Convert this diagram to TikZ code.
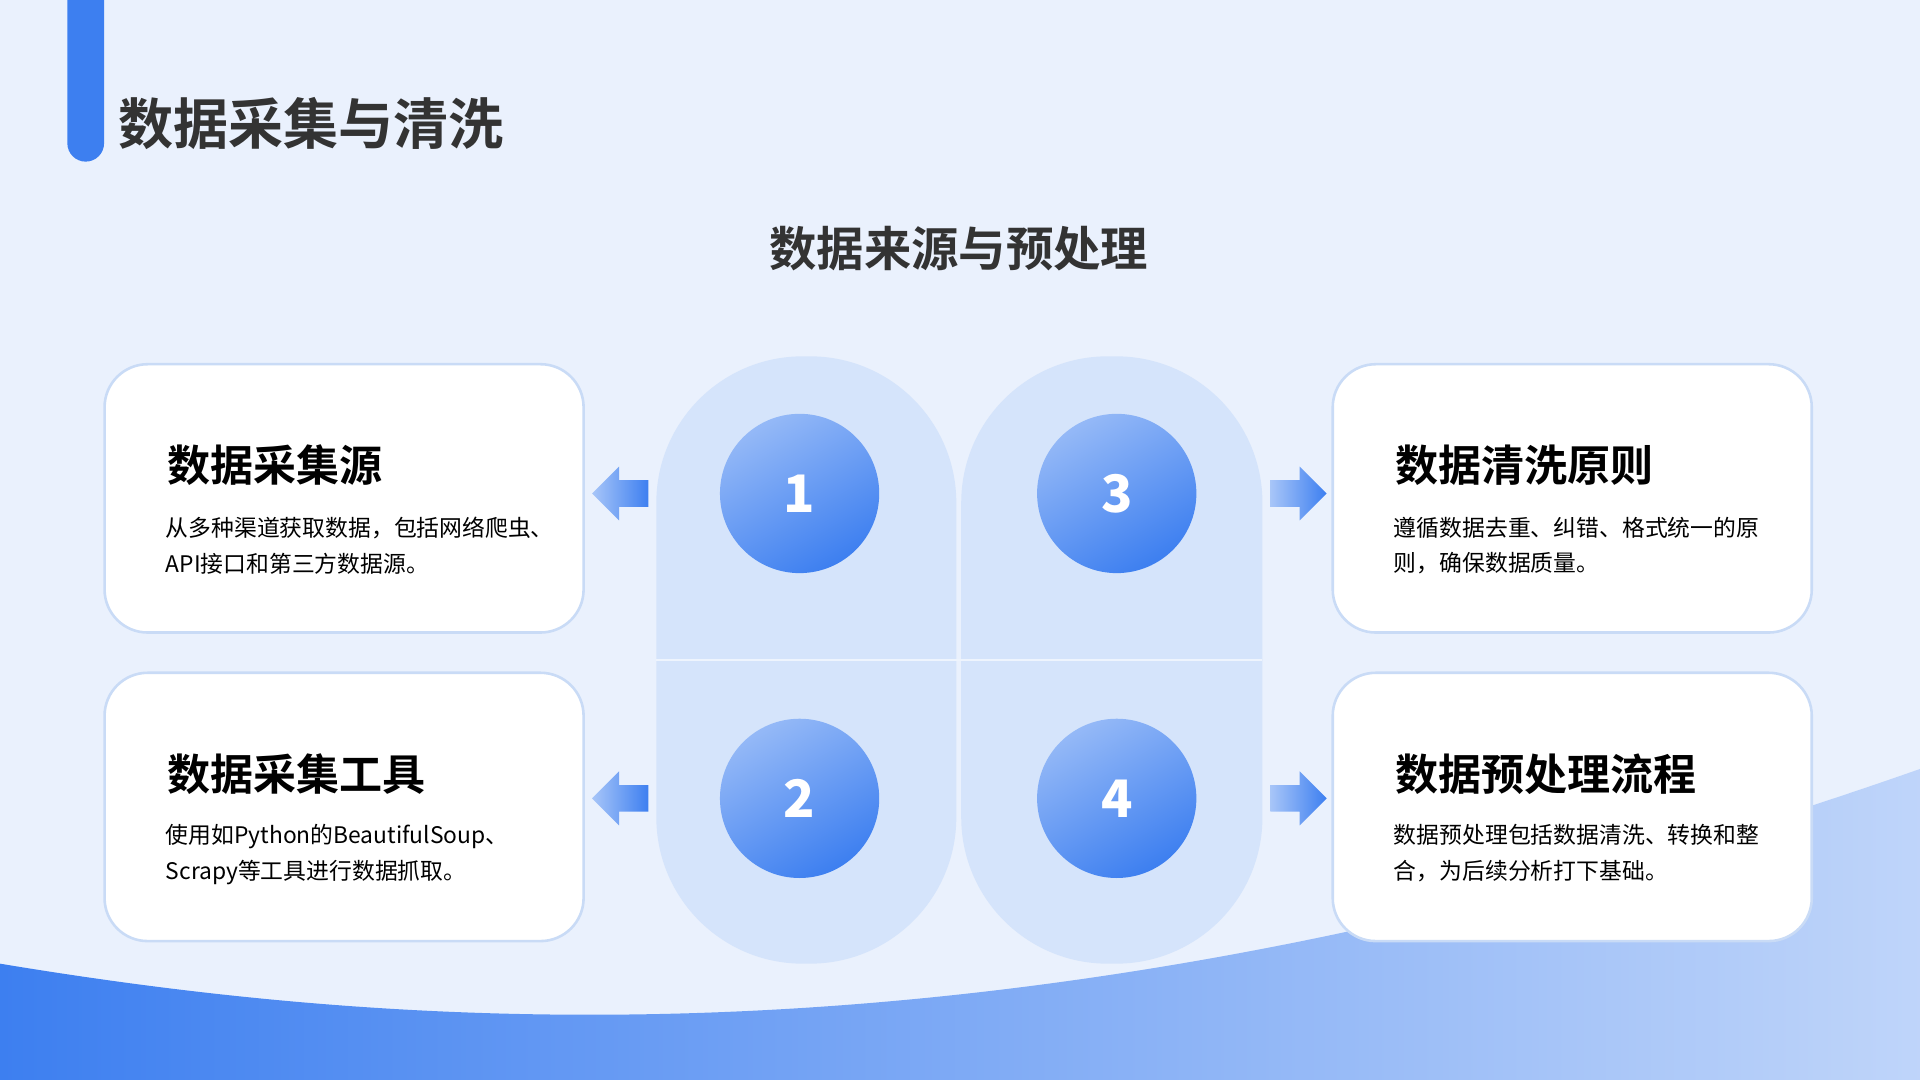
\documentclass[tikz,border=0pt]{standalone}
\usepackage{fontspec}
\setmainfont{Noto Sans CJK SC}
\newfontfamily\cjkbold{Noto Sans CJK SC Bold}
\usetikzlibrary{shapes.arrows,positioning}
\definecolor{bgblue}{HTML}{EAF1FD}
\definecolor{mainblue}{HTML}{3D7FF0}
\definecolor{pillblue}{HTML}{D5E4FB}
\definecolor{cardline}{HTML}{C9DBF6}
\definecolor{textdark}{HTML}{333333}
\tikzset{
  card/.style={draw=cardline,line width=0.6pt,fill=white,rounded corners=10pt,minimum width=3.91cm,minimum height=2.19cm},
  cardtitle/.style={anchor=west,font=\cjkbold\fontsize{10}{12}\selectfont,text=black},
  cardtext/.style={anchor=north west,align=left,font=\fontsize{5.3}{8.2}\selectfont,text=black},
  numdot/.style={circle,minimum size=1.3cm,inner sep=0pt,shading=axis,top color=mainblue!55!white,bottom color=mainblue,shading angle=30,text=white,font=\bfseries\fontsize{12}{14}\selectfont},
  sidearrow/.style={single arrow,shading=axis,left color=mainblue!45!white,right color=mainblue,draw=none,minimum height=0.46cm,minimum width=0.44cm,single arrow head extend=0.11cm,single arrow head indent=0pt,inner xsep=0pt,inner ysep=0.1cm}
}
\begin{document}
\begin{tikzpicture}[x=0.01cm,y=-0.01cm]
\useasboundingbox (0,0) rectangle (1568,882);
\fill[bgblue] (0,0) rectangle (1568,882);
% bottom wave
\shade[left color=mainblue,right color=mainblue!25!bgblue] (0,787) .. controls (350,845) and (850,880) .. (1568,628) -- (1568,882) -- (0,882) -- cycle;
% accent bar and titles
\fill[mainblue] (55,0) -- (55,117) arc[start angle=180,end angle=0,radius=15] -- (85,0) -- cycle;
\node[anchor=west,text=textdark,font=\cjkbold\fontsize{12.8}{14}\selectfont] (title) at (84,101) {数据采集与清洗};
\node[text=textdark,font=\cjkbold\fontsize{11}{13}\selectfont] (subtitle) at (783,203) {数据来源与预处理};
% pills
\fill[pillblue,rounded corners=34pt] (536,291) rectangle (781,787);
\fill[pillblue,rounded corners=34pt] (785,291) rectangle (1031,787);
\draw[white!60!pillblue,line width=0.5pt] (536,539) -- (1031,539);
% numbered dots
\node[numdot] (n1) at (653,403) {1};
\node[numdot] (n2) at (653,652) {2};
\node[numdot] (n3) at (912,403) {3};
\node[numdot] (n4) at (912,652) {4};
% cards
\node[card] (c1) at (281,407) {};
\node[card] (c2) at (281,659) {};
\node[card] (c3) at (1284,407) {};
\node[card] (c4) at (1284,659) {};
% arrows
\node[sidearrow,shape border rotate=180] (a1) at (512,403) {};
\node[sidearrow,shape border rotate=180] (a2) at (512,652) {};
\node[sidearrow] (a3) at (1055,403) {};
\node[sidearrow] (a4) at (1055,652) {};
% card texts
\node[cardtitle] (t1) at (124,380) {数据采集源};
\node[cardtext] (b1) at (123,410) {从多种渠道获取数据，包括网络爬虫、\\API接口和第三方数据源。};
\node[cardtitle] (t2) at (124,632) {数据采集工具};
\node[cardtext] (b2) at (123,661) {使用如Python的BeautifulSoup、\\Scrapy等工具进行数据抓取。};
\node[cardtitle] (t3) at (1127,380) {数据清洗原则};
\node[cardtext] (b3) at (1126,410) {遵循数据去重、纠错、格式统一的原\\则，确保数据质量。};
\node[cardtitle] (t4) at (1127,632) {数据预处理流程};
\node[cardtext] (b4) at (1126,661) {数据预处理包括数据清洗、转换和整\\合，为后续分析打下基础。};
\end{tikzpicture}
\end{document}
